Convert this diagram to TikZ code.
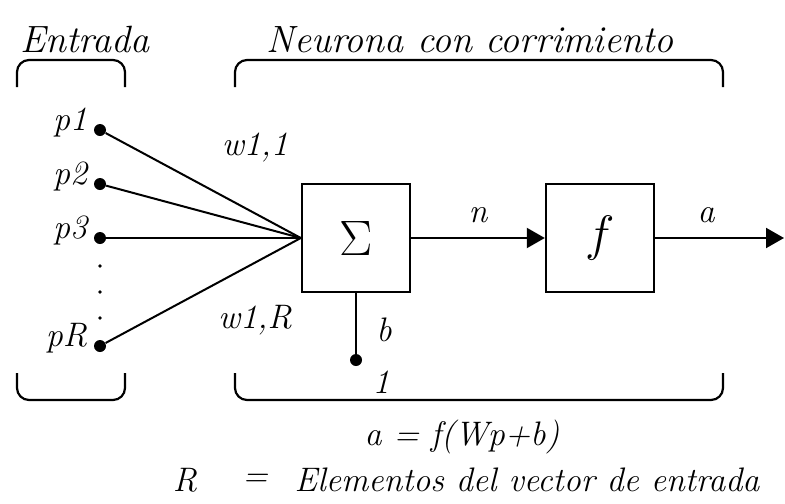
\documentclass[tikz,border=0pt]{standalone}
\usepackage{fontspec}
\usepackage{amsmath}
\usetikzlibrary{arrows.meta, positioning}

\begin{document}
\begin{tikzpicture}[x=0.5pt, y=-0.5pt,
    txt/.style={font=\fontsize{17}{20}\selectfont\itshape\addfontfeature{LetterSpace=10, WordSpace=1.8}, inner sep=1pt},
    ttl/.style={font=\fontsize{19}{22}\selectfont\itshape\addfontfeature{LetterSpace=18, WordSpace=2.2}, inner sep=1pt},
    dot/.style={circle, fill=black, minimum size=6pt, inner sep=0pt},
    box/.style={rectangle, draw, line width=1.2pt, minimum width=54pt, minimum height=54pt, inner sep=0pt},
    wire/.style={line width=1pt},
    brace/.style={line width=1.1pt, rounded corners=6pt},
    arrow/.style={-{Triangle[length=9pt, width=10pt]}, line width=1pt}
]
\useasboundingbox (0,0) rectangle (785,503);

% Titles
\node[ttl] (tin) at (85,40) {Entrada};
\node[ttl] (tneu) at (470,40) {Neurona con corrimiento};

% Brackets
\draw[brace] (17,87) -- (17,60) -- (125,60) -- (125,87);
\draw[brace] (17,373) -- (17,400) -- (125,400) -- (125,373);
\draw[brace] (235,87) -- (235,60) -- (723,60) -- (723,87);
\draw[brace] (235,373) -- (235,400) -- (723,400) -- (723,373);

% Inputs
\node[dot] (p1) at (100,130) {};
\node[dot] (p2) at (100,184) {};
\node[dot] (p3) at (100,238) {};
\node[dot] (pR) at (100,346) {};
\node[txt, left=2pt of p1, yshift=4pt] {p1};
\node[txt, left=2pt of p2, yshift=4pt] {p2};
\node[txt, left=2pt of p3, yshift=4pt] {p3};
\node[txt, left=2pt of pR, yshift=4pt] {pR};
\foreach \y in {266,292,318}
  \fill (100,\y) circle (0.9pt);

% Blocks
\node[box] (sum) at (356,238) {\fontsize{50}{50}\selectfont$\Sigma$};
\node[box] (f) at (600,238) {\fontsize{40}{40}\selectfont$f$};

\draw[wire] (p1) -- (sum.west);
\draw[wire] (p2) -- (sum.west);
\draw[wire] (p3) -- (sum.west);
\draw[wire] (pR) -- (sum.west);
\node[txt] (w11) at (255,147) {w1,1};
\node[txt] (w1R) at (255,320) {w1,R};

% Bias
\node[dot] (one) at (356,360) {};
\draw[wire] (sum.south) -- (one);
\node[txt] (b) at (384,330) {b};
\node[txt] (lone) at (381,382) {1};

% Outputs
\coordinate (out) at (784,238);
\draw[arrow] (sum.east) -- (f.west);
\draw[arrow] (f.east) -- (out);
\node[txt] (n) at (478,215) {n};
\node[txt] (a) at (706,215) {a};

% Equations
\node[txt] (eq) at (462,437) {a = f(Wp+b)};
\node[txt] (R) at (185,480) {R};
\node[txt] (eqR) at (255,480) {=};
\node[txt] (desc) at (527,480) {Elementos del vector de entrada};
\end{tikzpicture}
\end{document}
